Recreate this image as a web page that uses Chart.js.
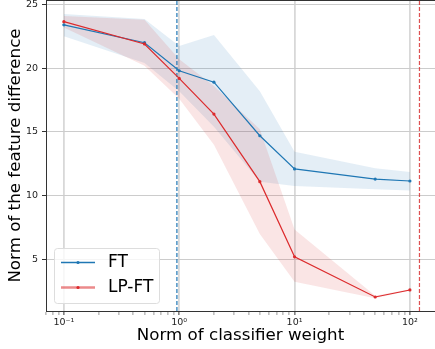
<!DOCTYPE html>
<html>
<head>
<meta charset="utf-8">
<script src="https://cdn.jsdelivr.net/npm/chart.js@4"></script>
<style>
  html, body { margin: 0; padding: 0; background: #fff; }
  canvas { display: block; }
</style>
</head>
<body>
<canvas id="chart" width="435" height="349"></canvas>
<script>
// classifier weight norms (x, log scale)
const weightNorms = [0.1, 0.5, 1, 2, 5, 10, 50, 100];

// FT: mean and shaded band
const ftMean  = [23.4, 22.0, 19.8, 18.9, 14.7, 12.1, 11.3, 11.15];
const ftUpper = [24.25, 23.85, 21.75, 22.6, 18.2, 13.45, 12.15, 11.85];
const ftLower = [22.5, 20.4, 18.2, 15.4, 11.1, 10.75, 10.5, 10.4];

// LP-FT: mean and shaded band
const lpMean  = [23.65, 21.9, 19.2, 16.4, 11.1, 5.2, 2.05, 2.6];
const lpUpper = [24.1, 23.8, 20.7, 18.6, 15.2, 7.35, 2.15, 2.65];
const lpLower = [23.2, 20.2, 17.6, 14.0, 7.0, 3.25, 1.95, 2.55];

// vertical reference lines (blue = FT, red = LP-FT)
const refLineX = [0.955, 121];

const seriesNames = ['FT', 'LP-FT'];
const yTicks = [5, 10, 15, 20, 25];

const BLUE = '#1f77b4';
const RED = '#dc2a2c';

const pts = ys => weightNorms.map((x, i) => ({ x: x, y: ys[i] }));
const vline = x => [{ x: x, y: 0 }, { x: x, y: 30 }];
const isMajor = v => Math.abs(Math.log10(v) - Math.round(Math.log10(v))) < 1e-6;
const sup = { '-': '⁻', '0': '⁰', '1': '¹', '2': '²', '3': '³' };

// top spine
const framePlugin = {
  id: 'frame',
  afterDraw(chart) {
    const { ctx, chartArea: a } = chart;
    ctx.save();
    ctx.strokeStyle = '#333';
    ctx.lineWidth = 1;
    ctx.beginPath();
    ctx.moveTo(a.left, a.top + 0.5);
    ctx.lineTo(a.right, a.top + 0.5);
    ctx.stroke();
    ctx.restore();
  }
};

// legend in lower left corner, like matplotlib
const legendPlugin = {
  id: 'boxLegend',
  afterDraw(chart) {
    const { ctx } = chart;
    const x = 54, y = 248, w = 105, h = 55;
    ctx.save();
    ctx.fillStyle = 'rgba(255,255,255,0.8)';
    ctx.strokeStyle = '#dddddd';
    ctx.lineWidth = 1;
    ctx.beginPath();
    ctx.roundRect(x + 0.5, y + 0.5, w, h, 3);
    ctx.fill();
    ctx.stroke();

    const rows = [
      { name: seriesNames[0], color: BLUE, line: BLUE, lw: 1.3, y: 262.5 },
      { name: seriesNames[1], color: RED, line: 'rgba(220,42,44,0.55)', lw: 2.6, y: 287.5 }
    ];
    rows.forEach(r => {
      ctx.strokeStyle = r.line;
      ctx.lineWidth = r.lw;
      ctx.beginPath();
      ctx.moveTo(61, r.y);
      ctx.lineTo(95, r.y);
      ctx.stroke();
      ctx.fillStyle = r.color;
      ctx.beginPath();
      ctx.arc(78, r.y, 1.6, 0, Math.PI * 2);
      ctx.fill();
      ctx.fillStyle = '#000';
      ctx.font = '17px "DejaVu Sans"';
      ctx.textBaseline = 'middle';
      ctx.fillText(r.name, 108, r.y);
    });
    ctx.restore();
  }
};

const lineStyle = color => ({
  borderColor: color,
  backgroundColor: color,
  borderWidth: 1.2,
  pointRadius: 1.6,
  pointBorderWidth: 0,
  pointBackgroundColor: color,
  fill: false,
  tension: 0
});

const bandStyle = fillColor => ({
  borderWidth: 0,
  pointRadius: 0,
  backgroundColor: fillColor,
  tension: 0
});

new Chart(document.getElementById('chart'), {
  type: 'line',
  data: {
    datasets: [
      Object.assign({ label: 'FT band', data: pts(ftUpper), fill: '+1', order: 4 }, bandStyle('rgba(31,119,180,0.12)')),
      Object.assign({ label: 'FT band low', data: pts(ftLower), fill: false, order: 4 }, bandStyle('rgba(31,119,180,0.12)')),
      Object.assign({ label: 'LP-FT band', data: pts(lpUpper), fill: '+1', order: 3 }, bandStyle('rgba(214,39,40,0.12)')),
      Object.assign({ label: 'LP-FT band low', data: pts(lpLower), fill: false, order: 3 }, bandStyle('rgba(214,39,40,0.12)')),
      Object.assign({ label: seriesNames[0], data: pts(ftMean), order: 1 }, lineStyle(BLUE)),
      Object.assign({ label: seriesNames[1], data: pts(lpMean), order: 0 }, lineStyle(RED)),
      { label: 'FT ref', data: vline(refLineX[0]), borderColor: BLUE, borderWidth: 1.2,
        borderDash: [4, 2], pointRadius: 0, fill: false, order: 2 },
      { label: 'LP-FT ref', data: vline(refLineX[1]), borderColor: 'rgba(214,39,40,0.8)', borderWidth: 1.2,
        borderDash: [4, 2], pointRadius: 0, fill: false, order: 2 }
    ]
  },
  options: {
    responsive: false,
    animation: false,
    devicePixelRatio: 1,
    layout: { padding: 0, autoPadding: false },
    plugins: {
      legend: { display: false },
      tooltip: { enabled: false }
    },
    scales: {
      x: {
        type: 'logarithmic',
        min: 0.07,
        max: 165,
        afterFit: s => {
          s.height = 38;
          s.paddingLeft = 0;
          s.paddingRight = 0;
        },
        afterBuildTicks: s => {
          const t = [];
          for (let e = -2; e <= 2; e++) {
            for (let m = 1; m <= 9; m++) {
              const v = +(m * Math.pow(10, e)).toPrecision(6);
              if (v >= 0.07 && v <= 165) t.push({ value: v });
            }
          }
          s.ticks = t;
        },
        ticks: {
          autoSkip: false,
          maxRotation: 0,
          padding: 2,
          color: '#222',
          font: { family: 'DejaVu Sans', size: 9.5 },
          callback: v => {
            if (!isMajor(v)) return '';
            const e = String(Math.round(Math.log10(v)));
            return '10' + e.split('').map(c => sup[c]).join('');
          }
        },
        grid: {
          color: c => (c.tick && isMajor(c.tick.value)) ? 'rgba(200,200,200,0.7)' : 'rgba(0,0,0,0)',
          lineWidth: 1.8,
          tickLength: 4,
          tickColor: c => (c.tick && isMajor(c.tick.value)) ? '#333' : '#999',
          tickWidth: 1
        },
        border: { color: '#333', width: 1 },
        title: {
          display: true,
          text: 'Norm of classifier weight',
          color: '#000',
          font: { family: 'DejaVu Sans', size: 16.7 },
          padding: { top: 0, bottom: 3 }
        }
      },
      y: {
        min: 0.95,
        max: 25.35,
        afterFit: s => {
          s.width = 46;
          s.paddingTop = 0;
          s.paddingBottom = 0;
        },
        afterBuildTicks: s => { s.ticks = yTicks.map(v => ({ value: v })); },
        ticks: {
          padding: 4,
          color: '#222',
          font: { family: 'DejaVu Sans', size: 9.5 }
        },
        grid: {
          color: '#cccccc',
          lineWidth: 1,
          tickLength: 4,
          tickColor: '#333'
        },
        border: { color: '#333', width: 1 },
        title: {
          display: true,
          text: 'Norm of the feature difference',
          color: '#000',
          font: { family: 'DejaVu Sans', size: 16.7 },
          padding: { top: 6, bottom: 0 }
        }
      }
    }
  },
  plugins: [framePlugin, legendPlugin]
});
</script>
</body>
</html>
